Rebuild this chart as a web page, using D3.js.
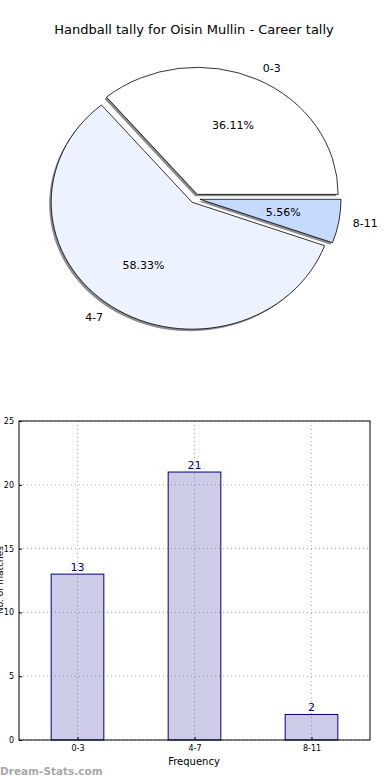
<!DOCTYPE html>
<html lang="en">
<head>
    <meta charset="utf-8">
    <title>Handball tally</title>
    <script src="https://d3js.org/d3.v7.min.js"></script>
    <style>
        body { margin: 0; background: #fff; font-family: "DejaVu Sans", sans-serif; }
        svg { display: block; }
    </style>
</head>
<body>
<div id="chart"></div>
<script>

// data
const title = "Handball tally for Oisin Mullin - Career tally";
const categories = ["0-3", "4-7", "8-11"];
const counts = [13, 21, 2];
const sliceColors = ["#ffffff", "#ecf2ff", "#c6d9ff"];
const yTicks = [0, 5, 10, 15, 20, 25];

const W = 390, H = 780;

const svg = d3.select("#chart").append("svg")
    .attr("width", W)
    .attr("height", H);

svg.append("text")
    .attr("x", 194)
    .attr("y", 34)
    .attr("text-anchor", "middle")
    .style("font-size", "13px")
    .text(title);

// ---- pie (matplotlib style, slightly squashed, exploded + shadow) ----
const cx = 195, cy = 198.5, rx = 141, ry = 127, explode = 0.036;
const total = d3.sum(counts);

// counter-clockwise from 3 o'clock
const pie = d3.pie().sort(null)
    .startAngle(Math.PI / 2)
    .endAngle(Math.PI / 2 - 2 * Math.PI);
const slices = pie(counts);
const arc = d3.arc().innerRadius(0).outerRadius(1);

const pieG = svg.append("g");

function offset(s) {
    const mid = (s.startAngle + s.endAngle) / 2;
    return [cx + Math.sin(mid) * explode * rx, cy - Math.cos(mid) * explode * ry, mid];
}

// shadows first
slices.forEach(s => {
    const [px, py] = offset(s);
    pieG.append("path")
        .attr("d", arc(s))
        .attr("transform", `translate(${px - 2},${py + 2}) scale(${rx},${ry})`)
        .attr("fill", "#8c8c8c");
});

slices.forEach((s, i) => {
    const [px, py, mid] = offset(s);

    pieG.append("path")
        .attr("d", arc(s))
        .attr("transform", `translate(${px},${py}) scale(${rx},${ry})`)
        .attr("fill", sliceColors[i])
        .attr("stroke", "#000")
        .attr("stroke-width", 0.8)
        .attr("vector-effect", "non-scaling-stroke");

    const sx = Math.sin(mid), sy = -Math.cos(mid);

    // category label at 1.1 r
    pieG.append("text")
        .attr("x", px + 1.1 * rx * sx)
        .attr("y", py + 1.1 * ry * sy)
        .attr("dy", "0.35em")
        .attr("text-anchor", sx > 0 ? "start" : "end")
        .style("font-size", "11px")
        .text(categories[i]);

    // percentage at 0.6 r
    pieG.append("text")
        .attr("x", px + 0.6 * rx * sx)
        .attr("y", py + 0.6 * ry * sy)
        .attr("dy", "0.35em")
        .attr("text-anchor", "middle")
        .style("font-size", "11px")
        .text((counts[i] / total * 100).toFixed(2) + "%");
});

// ---- bar chart ----
const plot = {left: 19, right: 370, top: 421, bottom: 740};

const x = d3.scaleLinear()
    .domain([-0.5, categories.length - 0.5])
    .range([plot.left, plot.right]);
const y = d3.scaleLinear()
    .domain([0, 25])
    .range([plot.bottom, plot.top]);

const barG = svg.append("g");

// grid
barG.selectAll(".hgrid")
    .data(yTicks)
    .join("line")
    .attr("x1", plot.left).attr("x2", plot.right)
    .attr("y1", d => y(d)).attr("y2", d => y(d))
    .attr("stroke", "#b0b0b0")
    .attr("stroke-width", 1)
    .attr("stroke-dasharray", "1,3");
barG.selectAll(".vgrid")
    .data(categories)
    .join("line")
    .attr("x1", (d, i) => x(i)).attr("x2", (d, i) => x(i))
    .attr("y1", plot.top).attr("y2", plot.bottom)
    .attr("stroke", "#b0b0b0")
    .attr("stroke-width", 1)
    .attr("stroke-dasharray", "1,3");

const barW = 0.45;
barG.selectAll("rect.bar")
    .data(counts)
    .join("rect")
    .attr("class", "bar")
    .attr("x", (d, i) => x(i - barW / 2))
    .attr("width", x(barW) - x(0))
    .attr("y", d => y(d))
    .attr("height", d => y(0) - y(d))
    .attr("fill", "rgba(0,0,128,0.2)")
    .attr("stroke", "#000080")
    .attr("stroke-width", 1);

barG.selectAll("text.val")
    .data(counts)
    .join("text")
    .attr("class", "val")
    .attr("x", (d, i) => x(i))
    .attr("y", d => y(d) - 3)
    .attr("text-anchor", "middle")
    .attr("fill", "#000080")
    .style("font-size", "11px")
    .text(d => d);

// frame
barG.append("rect")
    .attr("x", plot.left).attr("y", plot.top)
    .attr("width", plot.right - plot.left)
    .attr("height", plot.bottom - plot.top)
    .attr("fill", "none")
    .attr("stroke", "#000")
    .attr("stroke-width", 1);

// axes
const yAxis = barG.append("g")
    .attr("transform", `translate(${plot.left},0)`)
    .call(d3.axisLeft(y).tickValues(yTicks).tickSize(-3).tickPadding(5));
const xAxis = barG.append("g")
    .attr("transform", `translate(0,${plot.bottom})`)
    .call(d3.axisBottom(x).tickValues(d3.range(categories.length))
        .tickFormat(i => categories[i]).tickSize(-3).tickPadding(5));

[yAxis, xAxis].forEach(a => {
    a.select(".domain").remove();
    a.selectAll("text").style("font-size", "8px").style("font-family", "DejaVu Sans, sans-serif");
});

svg.append("text")
    .attr("x", 194)
    .attr("y", 765)
    .attr("text-anchor", "middle")
    .style("font-size", "10px")
    .text("Frequency");

// y label, mostly off the left edge as in the original
svg.append("text")
    .attr("transform", "translate(3,580) rotate(-90)")
    .attr("text-anchor", "middle")
    .style("font-size", "9px")
    .text("No. of matches");

svg.append("text")
    .attr("x", 0)
    .attr("y", 775)
    .attr("fill", "#a8a8a8")
    .style("font-size", "10.5px")
    .style("font-weight", "bold")
    .text("Dream-Stats.com");

</script>
</body>
</html>
